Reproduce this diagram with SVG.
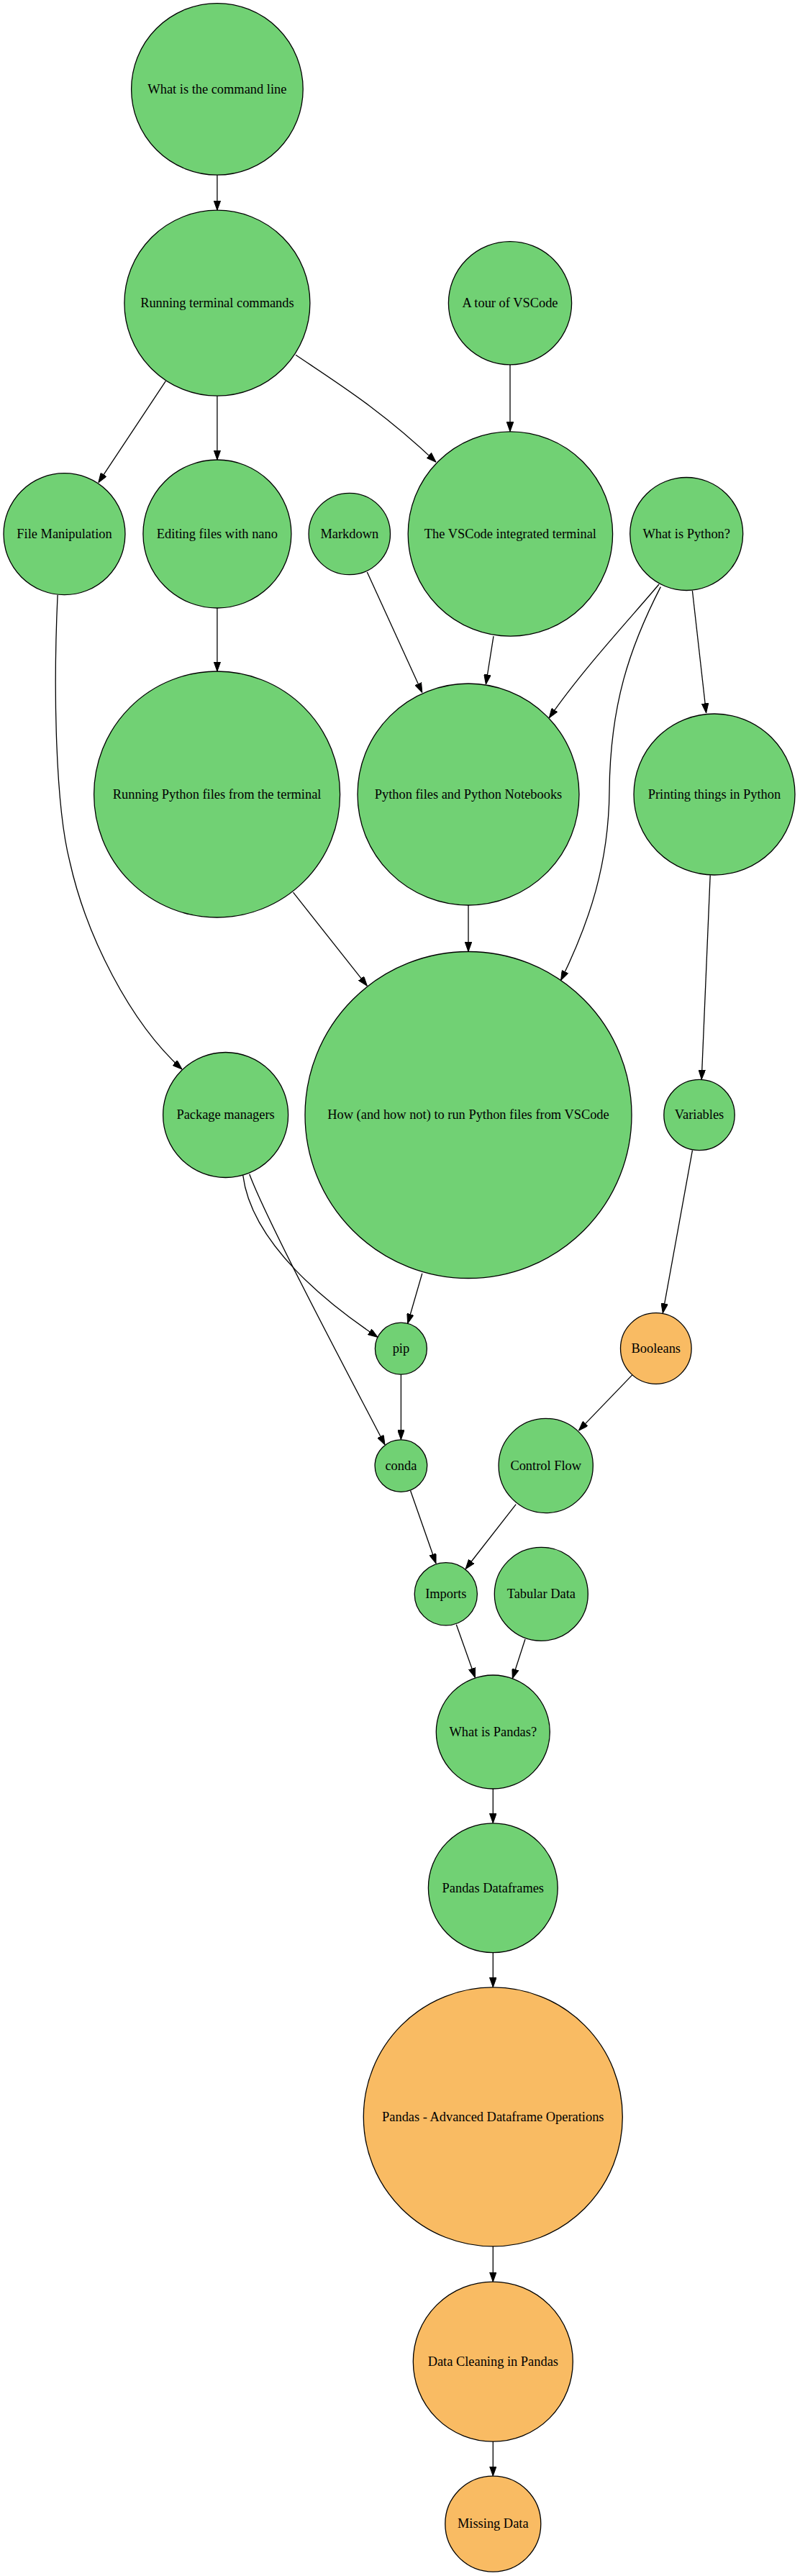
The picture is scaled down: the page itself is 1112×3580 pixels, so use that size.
<svg xmlns="http://www.w3.org/2000/svg" width="1112" height="3580" viewBox="0 0 1112 3580">
<style>
.g{fill:#71d174;stroke:#000;stroke-width:1.3}
.o{fill:#f9bb63;stroke:#000;stroke-width:1.3}
text{font-family:"Liberation Serif","Times New Roman",serif;font-size:18.4px;fill:#000;text-anchor:middle}
.e{fill:none;stroke:#000;stroke-width:1.3;marker-end:url(#ah)}
</style>
<defs>
<marker id="ah" markerUnits="userSpaceOnUse" viewBox="0 0 13.5 9.6" refX="13.5" refY="4.8" markerWidth="13.5" markerHeight="9.6" orient="auto">
<path d="M0,0 L13.5,4.8 L0,9.6 z" fill="#000" stroke="#000" stroke-width="1"/>
</marker>
</defs>
<rect width="1112" height="3580" fill="#fff"/>
<g id="edges">
<path class="e" d="M301.9,243.2 L301.9,292.2"/>
<path class="e" d="M230.3,529.6 Q186,596 136.8,670.7"/>
<path class="e" d="M411,493.3 C470,533 530,570 606,642.1"/>
<path class="e" d="M301.9,550.2 L301.9,639"/>
<path class="e" d="M709,506.8 L709,599.8"/>
<path class="e" d="M301.9,845 L301.9,933"/>
<path class="e" d="M510.3,795 L586.8,962.5"/>
<path class="e" d="M686,884.1 L675.4,951"/>
<path class="e" d="M916,812 C880,855 810,930 763.3,997.7"/>
<path class="e" d="M918.3,815.6 C875,900 848,980 847,1100 C846,1200 820,1280 779.6,1362.5"/>
<path class="e" d="M962.4,821 L981.6,990.8"/>
<path class="e" d="M407.5,1240.2 L510.3,1370.2"/>
<path class="e" d="M651,1258 L651,1322.5"/>
<path class="e" d="M80.1,826.8 C74,960 77,1120 97.1,1198 C120,1300 180,1420 253,1486"/>
<path class="e" d="M337.7,1633.3 C350,1730 460,1815 525,1858.3"/>
<path class="e" d="M346.7,1631.7 C372,1700 500,1940 535,2008"/>
<path class="e" d="M586.8,1769.8 L566.7,1839.3"/>
<path class="e" d="M557.4,1910.2 L557.4,2000.8"/>
<path class="e" d="M962.4,1598.9 L921.3,1824.9"/>
<path class="e" d="M987.2,1216.4 L975.2,1500.2"/>
<path class="e" d="M878.8,1910.9 L804.4,1988.1"/>
<path class="e" d="M570.5,2071.5 L606,2172.8"/>
<path class="e" d="M717.2,2090.6 L647.1,2180.5"/>
<path class="e" d="M634.3,2257.7 L660.5,2331.5"/>
<path class="e" d="M730,2278 L712.3,2332.7"/>
<path class="e" d="M685.3,2486 L685.3,2533.8"/>
<path class="e" d="M685.3,2713.6 L685.3,2761.8"/>
<path class="e" d="M685.3,3122 L685.3,3171.2"/>
<path class="e" d="M685.3,3393 L685.3,3441"/>
</g>
<g id="n_cmdline"><circle class="g" cx="301.9" cy="123.9" r="119.3"/><text x="301.9" y="129.7">What is the command line</text></g>
<g id="n_terminal"><circle class="g" cx="301.9" cy="421.2" r="129"/><text x="301.9" y="427">Running terminal commands</text></g>
<g id="n_tour"><circle class="g" cx="709" cy="421.2" r="85.6"/><text x="709" y="427">A tour of VSCode</text></g>
<g id="n_filemanip"><circle class="g" cx="89.5" cy="742.2" r="84.5"/><text x="89.5" y="748">File Manipulation</text></g>
<g id="n_nano"><circle class="g" cx="301.9" cy="742" r="103"/><text x="301.9" y="747.8">Editing files with nano</text></g>
<g id="n_markdown"><circle class="g" cx="485.8" cy="742" r="56.7"/><text x="485.8" y="747.8">Markdown</text></g>
<g id="n_vsterm"><circle class="g" cx="709.4" cy="742" r="142.2"/><text x="709.4" y="747.8">The VSCode integrated terminal</text></g>
<g id="n_whatpython"><circle class="g" cx="954.2" cy="742" r="78.5"/><text x="954.2" y="747.8">What is Python?</text></g>
<g id="n_runpy"><circle class="g" cx="301.6" cy="1104" r="171"/><text x="301.6" y="1109.8">Running Python files from the terminal</text></g>
<g id="n_pyfiles"><circle class="g" cx="651" cy="1104" r="154"/><text x="651" y="1109.8">Python files and Python Notebooks</text></g>
<g id="n_printing"><circle class="g" cx="993" cy="1104" r="112"/><text x="993" y="1109.8">Printing things in Python</text></g>
<g id="n_pkgmgr"><circle class="g" cx="313.6" cy="1549.5" r="87"/><text x="313.6" y="1555.3">Package managers</text></g>
<g id="n_howrun"><circle class="g" cx="651" cy="1549.5" r="227"/><text x="651" y="1555.3">How (and how not) to run Python files from VSCode</text></g>
<g id="n_variables"><circle class="g" cx="972" cy="1549.5" r="49.2"/><text x="972" y="1555.3">Variables</text></g>
<g id="n_pip"><circle class="g" cx="557.4" cy="1874.2" r="36"/><text x="557.4" y="1880">pip</text></g>
<g id="n_booleans"><circle class="o" cx="911.8" cy="1874" r="49.3"/><text x="911.8" y="1879.8">Booleans</text></g>
<g id="n_conda"><circle class="g" cx="557.4" cy="2037.1" r="36.3"/><text x="557.4" y="2042.9">conda</text></g>
<g id="n_control"><circle class="g" cx="758.7" cy="2037" r="65.6"/><text x="758.7" y="2042.8">Control Flow</text></g>
<g id="n_imports"><circle class="g" cx="619.8" cy="2215.3" r="43.6"/><text x="619.8" y="2221.1">Imports</text></g>
<g id="n_tabular"><circle class="g" cx="752.3" cy="2215.3" r="65"/><text x="752.3" y="2221.1">Tabular Data</text></g>
<g id="n_whatpandas"><circle class="g" cx="685.3" cy="2407" r="79"/><text x="685.3" y="2412.8">What is Pandas?</text></g>
<g id="n_dataframes"><circle class="g" cx="685.3" cy="2623.7" r="89.9"/><text x="685.3" y="2629.5">Pandas Dataframes</text></g>
<g id="n_advanced"><circle class="o" cx="685.3" cy="2941.9" r="180"/><text x="685.3" y="2947.7">Pandas - Advanced Dataframe Operations</text></g>
<g id="n_cleaning"><circle class="o" cx="685.3" cy="3282.1" r="111"/><text x="685.3" y="3287.9">Data Cleaning in Pandas</text></g>
<g id="n_missing"><circle class="o" cx="685.3" cy="3507.6" r="66.5"/><text x="685.3" y="3513.4">Missing Data</text></g>
</svg>
